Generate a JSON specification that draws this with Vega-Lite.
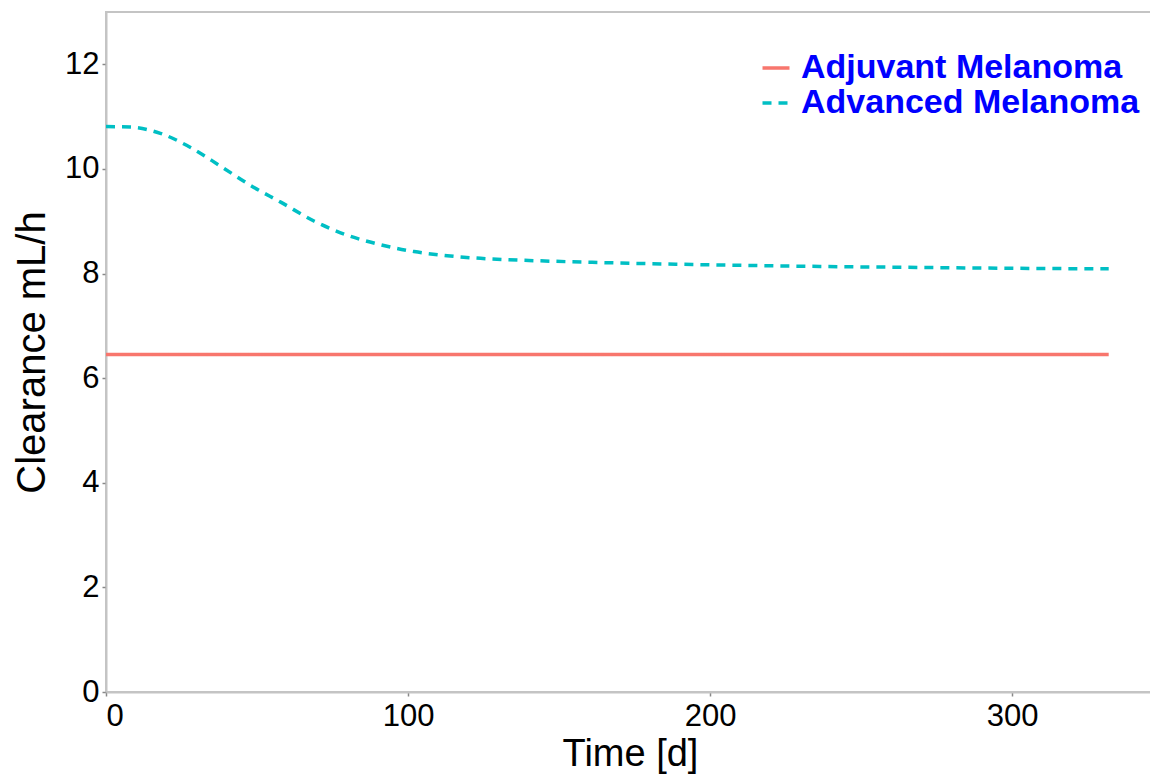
{
  "$schema": "https://vega.github.io/schema/vega-lite/v6.json",
  "width": 1048,
  "height": 680,
  "autosize": {"type": "none"},
  "padding": {"left": 106, "top": 12, "right": 0, "bottom": 84},
  "background": "white",
  "data": {
    "values": [
      {"t": 0, "cl": 6.45, "group": "Adjuvant Melanoma"},
      {"t": 100, "cl": 6.45, "group": "Adjuvant Melanoma"},
      {"t": 200, "cl": 6.45, "group": "Adjuvant Melanoma"},
      {"t": 332, "cl": 6.45, "group": "Adjuvant Melanoma"},
      {"t": 0, "cl": 10.81, "group": "Advanced Melanoma"},
      {"t": 8, "cl": 10.8, "group": "Advanced Melanoma"},
      {"t": 18, "cl": 10.68, "group": "Advanced Melanoma"},
      {"t": 28, "cl": 10.41, "group": "Advanced Melanoma"},
      {"t": 38, "cl": 10.05, "group": "Advanced Melanoma"},
      {"t": 48, "cl": 9.68, "group": "Advanced Melanoma"},
      {"t": 58, "cl": 9.36, "group": "Advanced Melanoma"},
      {"t": 69, "cl": 9.0, "group": "Advanced Melanoma"},
      {"t": 80, "cl": 8.73, "group": "Advanced Melanoma"},
      {"t": 91, "cl": 8.55, "group": "Advanced Melanoma"},
      {"t": 102, "cl": 8.42, "group": "Advanced Melanoma"},
      {"t": 113, "cl": 8.34, "group": "Advanced Melanoma"},
      {"t": 124, "cl": 8.29, "group": "Advanced Melanoma"},
      {"t": 140, "cl": 8.25, "group": "Advanced Melanoma"},
      {"t": 164, "cl": 8.21, "group": "Advanced Melanoma"},
      {"t": 197, "cl": 8.17, "group": "Advanced Melanoma"},
      {"t": 230, "cl": 8.14, "group": "Advanced Melanoma"},
      {"t": 263, "cl": 8.12, "group": "Advanced Melanoma"},
      {"t": 300, "cl": 8.1, "group": "Advanced Melanoma"},
      {"t": 332, "cl": 8.09, "group": "Advanced Melanoma"}
    ]
  },
  "mark": {"type": "line", "strokeWidth": 3.5, "interpolate": "monotone"},
  "encoding": {
    "x": {
      "field": "t", "type": "quantitative", "title": "Time [d]",
      "scale": {"domain": [0, 347], "nice": false, "zero": false},
      "axis": {"values": [0, 100, 200, 300], "titlePadding": 4}
    },
    "y": {
      "field": "cl", "type": "quantitative", "title": "Clearance mL/h",
      "scale": {"domain": [0, 13], "nice": false},
      "axis": {"values": [0, 2, 4, 6, 8, 10, 12], "titlePadding": 12}
    },
    "color": {
      "field": "group", "type": "nominal",
      "scale": {"domain": ["Adjuvant Melanoma", "Advanced Melanoma"], "range": ["#F8766D", "#00BFC4"]},
      "legend": {
        "title": null, "orient": "none", "legendX": 653, "legendY": 39,
        "symbolType": "stroke", "symbolSize": 729, "symbolStrokeWidth": 3.5,
        "labelFont": "Liberation Sans", "labelFontWeight": "bold", "labelFontSize": 34,
        "labelColor": "#0000FF", "labelOffset": 8, "rowPadding": 1, "labelLimit": 600
      }
    },
    "strokeDash": {
      "field": "group", "type": "nominal",
      "scale": {"domain": ["Adjuvant Melanoma", "Advanced Melanoma"], "range": [[1, 0], [9, 7]]},
      "legend": {
        "title": null, "orient": "none", "legendX": 653, "legendY": 39,
        "symbolType": "stroke", "symbolSize": 729, "symbolStrokeWidth": 3.5,
        "labelFont": "Liberation Sans", "labelFontWeight": "bold", "labelFontSize": 34,
        "labelColor": "#0000FF", "labelOffset": 8, "rowPadding": 1, "labelLimit": 600
      }
    }
  },
  "config": {
    "view": {"stroke": "#C4C4C4", "strokeWidth": 2},
    "font": "Liberation Sans",
    "axis": {
      "grid": false,
      "domainColor": "#C4C4C4", "domainWidth": 2,
      "tickColor": "#888888", "tickSize": 4, "tickWidth": 1.5,
      "labelFont": "Liberation Sans", "labelFontSize": 31, "labelColor": "#000000",
      "labelPadding": 3,
      "titleFont": "Liberation Sans", "titleFontSize": 40, "titleFontWeight": "normal", "titleColor": "#000000"
    },
    "axisX": {"labelPadding": 5, "titleFontSize": 38}
  }
}
